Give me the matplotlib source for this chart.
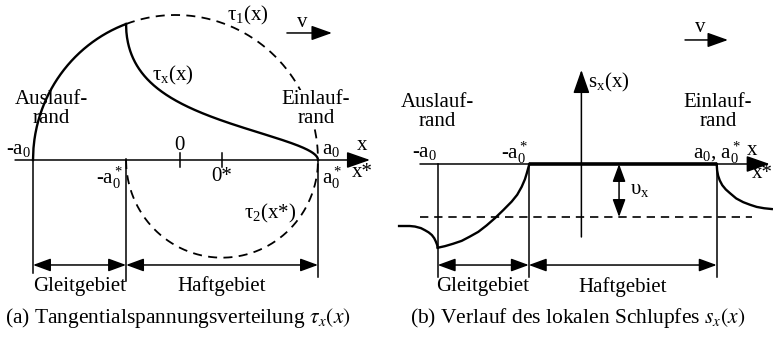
import numpy as np
import matplotlib.pyplot as plt

plt.rcParams['font.family'] = ['Liberation Serif', 'DejaVu Serif']
plt.rcParams['mathtext.fontset'] = 'stix'

# contact patch geometry (units of a0) and peak shear (units of tau_max)
a0 = 1.0
a0_star = 0.347        # -a0* : start of the stick zone
tau_max = 1.0
x_zero = 0.03          # where the "0" tick / s-axis sits

# local slip s_x / v_x read along the contact (panel b)
slip_gleit_x = [-1.0, -0.948, -0.89, -0.828, -0.77, -0.709, -0.65, -0.589, -0.53,
                -0.470, -0.43, -0.398, -0.375, -0.362, -0.343]
slip_gleit_s = [-1.58, -1.55, -1.505, -1.45, -1.37, -1.28, -1.16, -1.02, -0.87,
                -0.71, -0.58, -0.43, -0.29, -0.18, 0.0]
slip_out_l_x = [-1.277, -1.2, -1.163, -1.12, -1.091, -1.065, -1.042, -1.025, -1.014, -1.005, -1.0]
slip_out_l_s = [-1.17, -1.17, -1.18, -1.21, -1.25, -1.29, -1.34, -1.40, -1.46, -1.52, -1.58]
slip_out_r_x = [1.0, 1.003, 1.01, 1.022, 1.04, 1.065, 1.095, 1.14, 1.19, 1.24, 1.287, 1.34, 1.395]
slip_out_r_s = [0.0, -0.12, -0.22, -0.31, -0.40, -0.48, -0.55, -0.65, -0.72, -0.77, -0.81, -0.835, -0.85]

FS = 15
LW = 1.1
CW = 1.7


def arrow(ax, x0, y0, x1, y1, style='-|>', hl=0.8, hw=0.28, ms=18):
    ax.annotate('', xy=(x1, y1), xytext=(x0, y0),
                arrowprops=dict(arrowstyle=f'{style},head_length={hl},head_width={hw}',
                                color='k', lw=LW, mutation_scale=ms,
                                shrinkA=0, shrinkB=0))


def dbl(ax, x0, x1, y):
    arrow(ax, x0, y, x1, y, style='<|-|>', hl=0.6, hw=0.22, ms=18)


fig = plt.figure(figsize=(7.73, 3.37), dpi=100)
axL = fig.add_axes([0, 0, 390 / 773, 1])
axR = fig.add_axes([390 / 773, 0, 383 / 773, 1])
axL.set_xlim(-1.2316, 1.5053)
axL.set_ylim(-1.2207, 1.1034)
axR.set_xlim(-1.342, 1.4036)
axR.set_ylim(-3.264, 3.094)
for ax in (axL, axR):
    ax.axis('off')

# ---------------- (a) shear stress distribution ----------------
ax = axL
c2 = (a0 - a0_star) / 2          # centre of tau_2
r2 = (a0 + a0_star) / 2          # half width of stick zone
x1 = np.linspace(-a0, a0, 600)
tau1 = tau_max * np.sqrt(np.clip(1 - (x1 / a0) ** 2, 0, None))
xs = np.linspace(-a0_star, a0, 600)
tau2 = -tau_max * (r2 / a0) * np.sqrt(np.clip(1 - ((xs - c2) / r2) ** 2, 0, None))
tau1_s = tau_max * np.sqrt(np.clip(1 - (xs / a0) ** 2, 0, None))

slide = x1 <= -a0_star
ax.plot(x1[slide], tau1[slide], color='k', lw=CW)
ax.plot(xs, tau1_s, color='k', lw=1.3, ls=(0, (5, 3.5)))
ax.plot(xs, tau2, color='k', lw=1.3, ls=(0, (5, 3.5)))
ax.plot(xs, tau1_s + tau2, color='k', lw=CW)

arrow(ax, -1.126, 0, 1.365, 0)
for xt in (x_zero, c2):
    ax.plot([xt, xt], [-0.05, 0.05], color='k', lw=LW)
ax.plot([-a0, -a0], [0, -0.779], color='k', lw=LW)
ax.plot([-a0_star, -a0_star], [0.01, -0.834], color='k', lw=LW)
ax.plot([a0, a0], [0, -0.807], color='k', lw=LW)
dbl(ax, -a0, -a0_star, -0.724)
dbl(ax, -a0_star, a0, -0.724)
arrow(ax, 0.782, 0.876, 1.098, 0.876, hl=0.7, hw=0.25)

ax.text(0.888, 0.945, 'v', fontsize=FS, ha='center', va='center')
ax.text(0.361, 1.0, r'$\mathregular{τ_1}$(x)', fontsize=FS, ha='left', va='center')
ax.text(-0.018, 0.586, r'$\mathregular{τ_x}$(x)', fontsize=FS, ha='center', va='center')
ax.text(-0.874, 0.352, 'Auslauf-\nrand', fontsize=FS, ha='center', va='center',
        linespacing=1.05)
ax.text(0.986, 0.352, 'Einlauf-\nrand', fontsize=FS, ha='center', va='center',
        linespacing=1.05, bbox=dict(fc='white', ec='none', pad=0))
ax.text(-1.105, 0.069, r'-$\mathregular{a_0}$', fontsize=FS, ha='center', va='center')
ax.text(x_zero, 0.10, '0', fontsize=FS, ha='center', va='center')
ax.text(1.028, 0.069, r'$\mathregular{a_0}$', fontsize=FS, ha='left', va='center')
ax.text(1.309, 0.10, 'x', fontsize=FS, ha='center', va='center')
ax.text(1.309, -0.083, 'x*', fontsize=FS, ha='center', va='center')
ax.text(-0.368, -0.124, r'-$\mathregular{a_0^*}$', fontsize=FS, ha='right', va='center')
ax.text(c2, -0.117, '0*', fontsize=FS, ha='center', va='center')
ax.text(1.028, -0.124, r'$\mathregular{a_0^*}$', fontsize=FS, ha='left', va='center')
ax.text(0.663, -0.372, r'$\mathregular{τ_2}$(x*)', fontsize=FS, ha='center', va='center')
ax.text(-0.670, -0.869, 'Gleitgebiet', fontsize=FS, ha='center', va='center')
ax.text(c2, -0.869, 'Haftgebiet', fontsize=FS, ha='center', va='center')
ax.text(0.018, -1.09, r'(a) Tangentialspannungsverteilung $\tau_x(x)$',
        fontsize=15.5, ha='center', va='center')

# ---------------- (b) local slip ----------------
ax = axR
arrow(ax, -1.127, 0, 1.38, 0)
ax.plot([-a0_star, a0], [0, 0], color='k', lw=2.6, solid_capstyle='butt')
arrow(ax, x_zero, -1.377, x_zero, 1.774)
ax.plot([-1.127, 1.253], [-1, -1], color='k', lw=1.2, ls=(0, (5, 3.5)))
for xv in (-a0, -a0_star, a0):
    ax.plot([xv, xv], [0, -2.13], color='k', lw=LW)
ax.plot(slip_gleit_x, slip_gleit_s, color='k', lw=CW)
ax.plot(slip_out_l_x, slip_out_l_s, color='k', lw=CW)
ax.plot(slip_out_r_x, slip_out_r_s, color='k', lw=CW)
arrow(ax, 0.30, 0, 0.30, -1, style='<|-|>', hl=0.6, hw=0.22)
dbl(ax, -a0, -a0_star, -1.906)
dbl(ax, -a0_star, a0, -1.906)
arrow(ax, 0.773, 2.34, 1.081, 2.34, hl=0.7, hw=0.25)

ax.text(0.88, 2.57, 'v', fontsize=FS, ha='center', va='center')
ax.text(0.077, 1.547, r'$\mathregular{s_x}$(x)', fontsize=FS, ha='left', va='center')
ax.text(-1.001, 0.98, 'Auslauf-\nrand', fontsize=FS, ha='center', va='center',
        linespacing=1.05)
ax.text(1.009, 0.98, 'Einlauf-\nrand', fontsize=FS, ha='center', va='center',
        linespacing=1.05)
ax.text(-1.091, 0.21, r'-$\mathregular{a_0}$', fontsize=FS, ha='center', va='center')
ax.text(-0.446, 0.21, r'-$\mathregular{a_0^*}$', fontsize=FS, ha='center', va='center')
ax.text(1.002, 0.21, r'$\mathregular{a_0,\, a_0^*}$', fontsize=FS, ha='center', va='center')
ax.text(1.253, 0.26, 'x', fontsize=FS, ha='center', va='center')
ax.text(1.325, -0.17, 'x*', fontsize=FS, ha='center', va='center')
ax.text(0.45, -0.49, r'$\mathregular{υ_x}$', fontsize=FS, ha='center', va='center')
ax.text(-0.675, -2.32, 'Gleitgebiet', fontsize=FS, ha='center', va='center')
ax.text(0.325, -2.32, 'Haftgebiet', fontsize=FS, ha='center', va='center')
ax.text(0.0, -2.906, r'(b) Verlauf des lokalen Schlupfes $s_x(x)$',
        fontsize=15.5, ha='center', va='center')

fig.savefig('out.png', dpi=100)
